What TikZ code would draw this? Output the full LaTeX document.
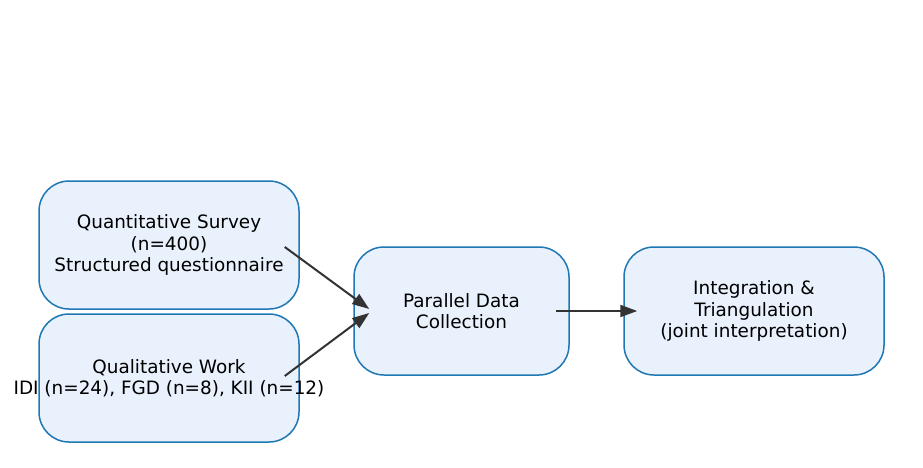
\documentclass[tikz,border=0pt]{standalone}
\usepackage{fontspec}
\setmainfont{DejaVu Sans}
\usetikzlibrary{positioning, arrows.meta, calc}
\definecolor{boxblue}{HTML}{1F77B4}
\definecolor{boxfill}{HTML}{E8F1FC}
\definecolor{arrowgray}{HTML}{333333}

\begin{document}
\begin{tikzpicture}[x=1pt, y=-1pt,
  every node/.style={font=\fontsize{18.4}{21.2}\selectfont},
  stagebox/.style={draw=boxblue, fill=boxfill, line width=1.5pt, rounded corners=30pt, minimum height=128pt, inner sep=0pt, align=center},
  flow/.style={draw=arrowgray, line width=2pt, -{Triangle[length=17pt,width=12pt]}}]
\useasboundingbox (0,0) rectangle (923,468);

\node[stagebox, minimum width=260pt] (quant) at (169,245) {Quantitative Survey\\(n=400)\\Structured questionnaire};
\node[stagebox, minimum width=260pt] (qual) at (169,378) {Qualitative Work\\\makebox[0pt]{IDI (n=24), FGD (n=8), KII (n=12)}};
\node[stagebox, minimum width=215pt] (parallel) at (461.5,311) {Parallel Data\\Collection};
\node[stagebox, minimum width=260pt] (integ) at (754,311) {Integration \&\\Triangulation\\(joint interpretation)};

\coordinate (quantout) at ([xshift=-15pt, yshift=-2pt]quant.east);
\coordinate (qualout) at ([xshift=-15pt, yshift=2pt]qual.east);
\coordinate (parin1) at ([xshift=16pt, yshift=2pt]parallel.west);
\coordinate (parin2) at ([xshift=16pt, yshift=-2pt]parallel.west);
\coordinate (parout) at ([xshift=-14pt]parallel.east);
\coordinate (integin) at ([xshift=14pt]integ.west);

\draw[flow] (quantout) -- (parin1);
\draw[flow] (qualout) -- (parin2);
\draw[flow] (parout) -- (integin);

\end{tikzpicture}
\end{document}
